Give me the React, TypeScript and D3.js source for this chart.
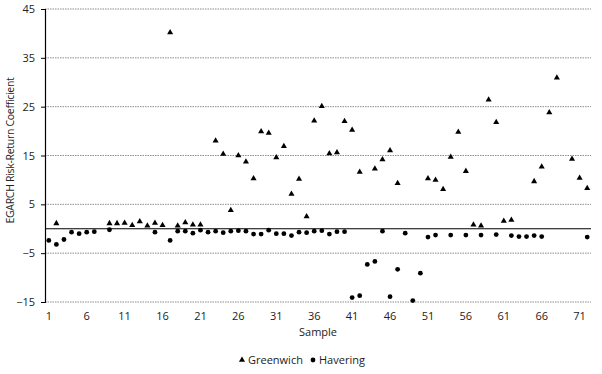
import React, { useRef, useEffect } from 'react';
import * as d3 from 'd3';

// sample index 1..72
const samples: number[] = Array.from({ length: 72 }, (_, i) => i + 1);

const greenwich: (number | null)[] = [
  null, 1.1, null, null, null, null, null, null, 1.1, 1.1,
  1.2, 0.7, 1.5, 0.6, 1.2, 0.7, 40.2, 0.6, 1.3, 0.8,
  0.8, null, 18.0, 15.3, 3.8, 15.0, 13.7, 10.3, 19.9, 19.6,
  14.6, 16.9, 7.1, 10.2, 2.5, 22.1, 25.1, 15.4, 15.6, 22.0,
  20.2, 11.6, null, 12.3, 14.2, 16.0, 9.3, null, null, null,
  10.3, 10.0, 8.1, 14.7, 19.8, 11.8, 0.8, 0.6, 26.4, 21.8,
  1.6, 1.8, null, null, 9.7, 12.7, 23.8, 30.9, null, 14.3,
  10.4, 8.3,
];

const havering: (number | null)[] = [
  -2.4, -3.2, -2.2, -0.7, -1.0, -0.7, -0.6, null, -0.2, null,
  null, null, null, null, -0.7, null, -2.4, -0.5, -0.5, -0.9,
  -0.3, -0.7, -0.5, -0.8, -0.5, -0.4, -0.5, -1.1, -1.1, -0.3,
  -1.0, -1.0, -1.4, -0.7, -0.8, -0.5, -0.4, -1.1, -0.6, -0.6,
  -14.1, -13.7, -7.3, -6.7, -0.5, -13.9, -8.3, -0.9, -14.7, -9.1,
  -1.7, -1.3, null, -1.3, null, -1.3, null, -1.3, null, -1.2,
  null, -1.4, -1.6, -1.6, -1.4, -1.6, null, null, null, null,
  null, -1.7,
];

const yTicks = [-15, -5, 5, 15, 25, 35, 45];
const xLabels = [1, 6, 11, 16, 21, 26, 31, 36, 41, 46, 51, 56, 61, 66, 71];

const FONT = '"Open Sans", "Liberation Sans", sans-serif';
const TEXT = '#222';

export default function App() {
  const ref = useRef<SVGSVGElement>(null);

  useEffect(() => {
    const svg = d3.select(ref.current);
    svg.selectAll('*').remove();

    const width = 602;
    const height = 374;
    const left = 45;
    const right = 591;
    const top = 9;
    const bottom = 302;

    const x = d3.scaleBand<number>().domain(samples).range([left, right]);
    const cx = (s: number) => (x(s) as number) + x.bandwidth() / 2;
    const y = d3.scaleLinear().domain([-15, 45]).range([bottom, top]);

    svg.attr('width', width).attr('height', height);

    // dotted gridlines
    svg.append('g')
      .selectAll('line')
      .data(yTicks)
      .join('line')
      .attr('x1', left)
      .attr('x2', right)
      .attr('y1', d => y(d))
      .attr('y2', d => y(d))
      .attr('stroke', '#8c8c8c')
      .attr('stroke-width', 1)
      .attr('stroke-dasharray', '1.5,1');

    // y axis
    const yAxis = svg.append('g')
      .attr('transform', `translate(${left},0)`)
      .call(d3.axisLeft(y).tickValues(yTicks).tickSize(4).tickPadding(6));
    yAxis.select('.domain').attr('stroke', '#000').attr('stroke-width', 1.2);
    yAxis.selectAll('.tick line').attr('stroke', '#000');
    yAxis.selectAll('.tick text')
      .attr('fill', TEXT)
      .attr('font-family', FONT)
      .attr('font-size', 11);

    // category axis crossing at zero
    svg.append('line')
      .attr('x1', left)
      .attr('x2', right)
      .attr('y1', y(0))
      .attr('y2', y(0))
      .attr('stroke', '#000')
      .attr('stroke-width', 1.2);

    // x labels at the bottom
    svg.append('g')
      .selectAll('text')
      .data(xLabels)
      .join('text')
      .attr('x', d => cx(d))
      .attr('y', 320)
      .attr('text-anchor', 'middle')
      .attr('fill', TEXT)
      .attr('font-family', FONT)
      .attr('font-size', 11)
      .text(d => d);

    // axis titles
    svg.append('text')
      .attr('x', 318)
      .attr('y', 336)
      .attr('text-anchor', 'middle')
      .attr('fill', TEXT)
      .attr('font-family', FONT)
      .attr('font-size', 11)
      .text('Sample');

    svg.append('text')
      .attr('transform', `translate(14,${(top + bottom) / 2 - 5}) rotate(-90)`)
      .attr('text-anchor', 'middle')
      .attr('fill', TEXT)
      .attr('font-family', FONT)
      .attr('font-size', 10.5)
      .attr('letter-spacing', -0.3)
      .text('EGARCH Risk-Return Coefficient');

    const tri = d3.symbol().type(d3.symbolTriangle).size(16);

    // Greenwich
    svg.append('g')
      .selectAll('path')
      .data(samples.filter((s, i) => greenwich[i] !== null))
      .join('path')
      .attr('d', tri)
      .attr('transform', s => `translate(${cx(s)},${y(greenwich[s - 1] as number)})`)
      .attr('fill', '#000');

    // Havering
    svg.append('g')
      .selectAll('circle')
      .data(samples.filter((s, i) => havering[i] !== null))
      .join('circle')
      .attr('cx', s => cx(s))
      .attr('cy', s => y(havering[s - 1] as number))
      .attr('r', 2.4)
      .attr('fill', '#000');

    // legend
    const legend = svg.append('g').attr('font-family', FONT).attr('font-size', 11).attr('fill', TEXT);
    legend.append('path')
      .attr('d', tri)
      .attr('transform', 'translate(242,360)')
      .attr('fill', '#000');
    legend.append('text').attr('x', 248).attr('y', 364).text('Greenwich');
    legend.append('circle').attr('cx', 313).attr('cy', 360).attr('r', 2.4).attr('fill', '#000');
    legend.append('text').attr('x', 319).attr('y', 364).text('Havering');
  }, []);

  return <svg ref={ref} style={{ position: 'absolute', left: 0, top: 0 }} />;
}
